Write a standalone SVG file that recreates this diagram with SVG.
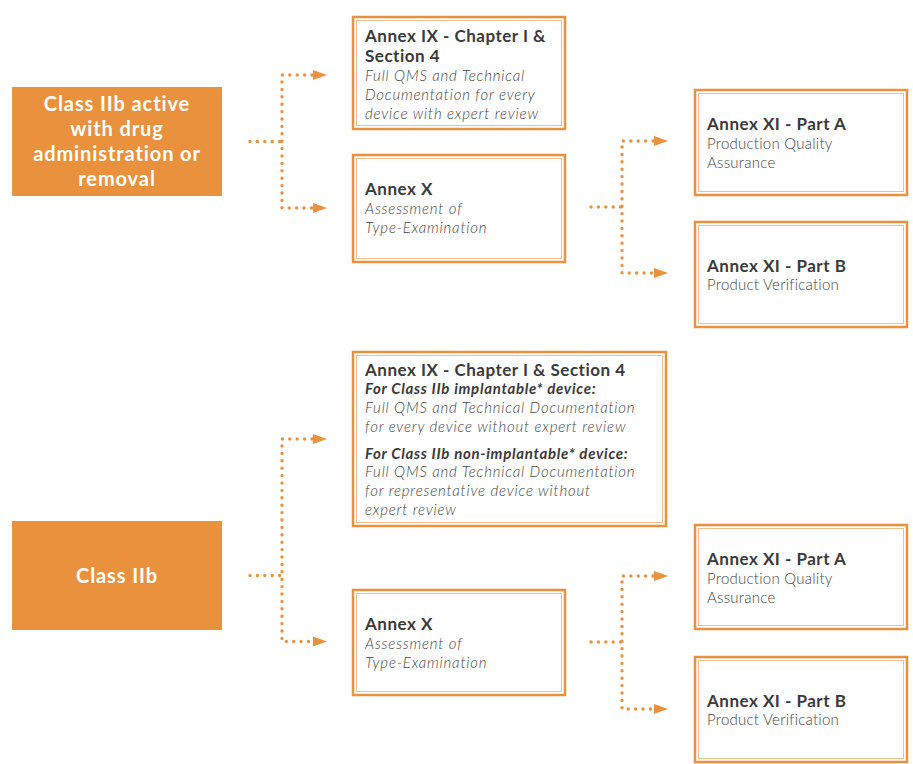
<svg xmlns="http://www.w3.org/2000/svg" width="913" height="764" viewBox="0 0 913 764">
  <style>
    .cls-box { fill: #E9913C; }
    .cls-txt { font-family: Lato, "Open Sans", "Liberation Sans", sans-serif; font-weight: 700; font-size: 20px; letter-spacing: 0.9px; fill: #ffffff; text-anchor: middle; }
    .frame-out { fill: #ffffff; stroke: #E9913C; stroke-width: 2.5; }
    .frame-in { fill: none; stroke: #F2BE8C; stroke-width: 1; }
    .ttl { font-family: Lato, "Open Sans", "Liberation Sans", sans-serif; font-weight: 700; font-size: 17px; letter-spacing: 0.5px; fill: #3a3a3a; }
    .sub { font-family: Lato, "Open Sans", "Liberation Sans", sans-serif; font-weight: 700; font-style: italic; font-size: 15px; letter-spacing: 0.7px; fill: #3a3a3a; }
    .desc { font-family: Lato, "Open Sans", "Liberation Sans", sans-serif; font-weight: 300; font-style: italic; font-size: 15px; letter-spacing: 0.8px; fill: #464646; }
    .plain { font-family: Lato, "Open Sans", "Liberation Sans", sans-serif; font-weight: 300; font-size: 15px; letter-spacing: 0.25px; fill: #464646; }
    .dots { fill: none; stroke: #E9913C; stroke-width: 3.4; stroke-linecap: round; stroke-dasharray: 0 7.4; }
    .head { fill: #E9913C; }
  </style>
  <rect width="913" height="764" fill="#ffffff"/>

  <!-- dotted branch connectors -->
  <g id="connectors">
    <!-- upper class to annex IX / X -->
    <path class="dots" d="M250 141.5 H281"/>
    <path class="dots" d="M312 75 H282 V208 H312"/>
    <polygon class="head" points="313,70 327,75 313,80"/>
    <polygon class="head" points="313,203 327,208 313,213"/>
    <!-- upper annex X to annex XI -->
    <path class="dots" d="M591 207 H621"/>
    <path class="dots" d="M653 141 H622 V273 H653"/>
    <polygon class="head" points="654,136 668,141 654,146"/>
    <polygon class="head" points="654,268 668,273 654,278"/>
    <!-- lower class to annex IX / X -->
    <path class="dots" d="M250 575.5 H281"/>
    <path class="dots" d="M312 439 H282 V641.5 H312"/>
    <polygon class="head" points="313,434 327,439 313,444"/>
    <polygon class="head" points="313,636.5 327,641.5 313,646.5"/>
    <!-- lower annex X to annex XI -->
    <path class="dots" d="M591 642 H621"/>
    <path class="dots" d="M653 576 H622 V709 H653"/>
    <polygon class="head" points="654,571 668,576 654,581"/>
    <polygon class="head" points="654,704 668,709 654,714"/>
  </g>

  <!-- upper group -->
  <g id="class-iib-active">
    <rect class="cls-box" x="12" y="87" width="210" height="109"/>
    <text class="cls-txt" x="117" y="111">Class IIb active</text>
    <text class="cls-txt" x="117" y="136">with drug</text>
    <text class="cls-txt" x="117" y="161">administration or</text>
    <text class="cls-txt" x="117" y="186">removal</text>
  </g>

  <g id="annex-ix-upper">
    <rect class="frame-out" x="353" y="17" width="212" height="112"/>
    <rect class="frame-in" x="356.5" y="20.5" width="205" height="105"/>
    <text class="ttl" x="365" y="42">Annex IX - Chapter I &amp;</text>
    <text class="ttl" x="365" y="62">Section 4</text>
    <text class="desc" x="365" y="81">Full QMS and Technical</text>
    <text class="desc" x="365" y="100">Documentation for every</text>
    <text class="desc" x="365" y="119">device with expert review</text>
  </g>

  <g id="annex-x-upper">
    <rect class="frame-out" x="353" y="155" width="212" height="107"/>
    <rect class="frame-in" x="356.5" y="158.5" width="205" height="100"/>
    <text class="ttl" x="365" y="195">Annex X</text>
    <text class="desc" x="365" y="214">Assessment of</text>
    <text class="desc" x="365" y="233">Type-Examination</text>
  </g>

  <g id="annex-xi-a-upper">
    <rect class="frame-out" x="695" y="90" width="212" height="105"/>
    <rect class="frame-in" x="698.5" y="93.5" width="205" height="98"/>
    <text class="ttl" x="707" y="130">Annex XI - Part A</text>
    <text class="plain" x="707" y="149">Production Quality</text>
    <text class="plain" x="707" y="168">Assurance</text>
  </g>

  <g id="annex-xi-b-upper">
    <rect class="frame-out" x="695" y="222" width="212" height="105"/>
    <rect class="frame-in" x="698.5" y="225.5" width="205" height="98"/>
    <text class="ttl" x="707" y="272">Annex XI - Part B</text>
    <text class="plain" x="707" y="290">Product Verification</text>
  </g>

  <!-- lower group -->
  <g id="class-iib">
    <rect class="cls-box" x="12" y="521" width="210" height="109"/>
    <text class="cls-txt" x="117" y="583">Class IIb</text>
  </g>

  <g id="annex-ix-lower">
    <rect class="frame-out" x="353" y="352" width="313" height="174"/>
    <rect class="frame-in" x="356.5" y="355.5" width="306" height="167"/>
    <text class="ttl" x="365" y="376">Annex IX - Chapter I &amp; Section 4</text>
    <text class="sub" x="365" y="394">For Class IIb implantable* device:</text>
    <text class="desc" x="365" y="413">Full QMS and Technical Documentation</text>
    <text class="desc" x="365" y="432">for every device without expert review</text>
    <text class="sub" x="365" y="459">For Class IIb non-implantable* device:</text>
    <text class="desc" x="365" y="477">Full QMS and Technical Documentation</text>
    <text class="desc" x="365" y="496">for representative device without</text>
    <text class="desc" x="365" y="515">expert review</text>
  </g>

  <g id="annex-x-lower">
    <rect class="frame-out" x="353" y="590" width="212" height="105"/>
    <rect class="frame-in" x="356.5" y="593.5" width="205" height="98"/>
    <text class="ttl" x="365" y="630">Annex X</text>
    <text class="desc" x="365" y="649">Assessment of</text>
    <text class="desc" x="365" y="668">Type-Examination</text>
  </g>

  <g id="annex-xi-a-lower">
    <rect class="frame-out" x="695" y="525" width="212" height="104"/>
    <rect class="frame-in" x="698.5" y="528.5" width="205" height="97"/>
    <text class="ttl" x="707" y="565">Annex XI - Part A</text>
    <text class="plain" x="707" y="584">Production Quality</text>
    <text class="plain" x="707" y="603">Assurance</text>
  </g>

  <g id="annex-xi-b-lower">
    <rect class="frame-out" x="695" y="657" width="212" height="105"/>
    <rect class="frame-in" x="698.5" y="660.5" width="205" height="98"/>
    <text class="ttl" x="707" y="707">Annex XI - Part B</text>
    <text class="plain" x="707" y="725">Product Verification</text>
  </g>
</svg>
